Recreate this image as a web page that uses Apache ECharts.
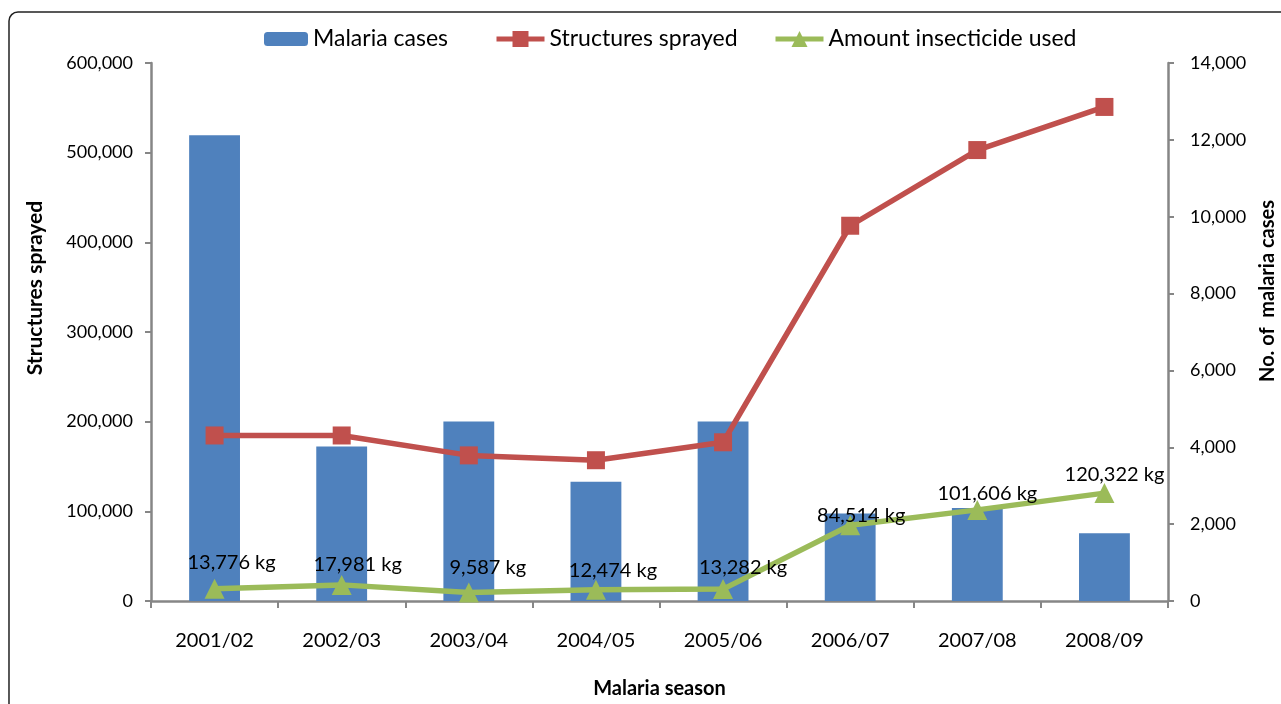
<!DOCTYPE html>
<html>
<head>
<meta charset="utf-8">
<script src="https://cdn.jsdelivr.net/npm/echarts@6/dist/echarts.min.js"></script>
<style>
html,body{margin:0;padding:0;background:#fff;overflow:hidden;}
#chart{width:1281px;height:704px;}
</style>
</head>
<body>
<div id="chart"></div>
<script>
// ---- data ----
const categories = ['2001/02', '2002/03', '2003/04', '2004/05', '2005/06', '2006/07', '2007/08', '2008/09'];
const malariaCases = [12120, 4020, 4670, 3100, 4670, 2280, 2420, 1760];
const structuresSprayed = [184600, 184600, 162400, 157000, 177000, 418500, 502900, 551000];
const insecticideKg = [13776, 17981, 9587, 12474, 13282, 84514, 101606, 120322];
const leftAxis = { min: 0, max: 600000, interval: 100000 };
const rightAxis = { min: 0, max: 14000, interval: 2000 };

// label placement offsets (style only)
const labelOffsets = [[17, -26], [16, -20], [19, -25], [17, -19], [20, -22], [11, -10], [10, -16], [10, -19]];

const FONT = 'Lato, "Open Sans", sans-serif';
const fmt = v => v.toLocaleString('en-US');

const chart = echarts.init(document.getElementById('chart'), null, { renderer: 'canvas', width: 1281, height: 704 });

const axisLineStyle = { color: '#868686', width: 2.5 };
const legendText = { fontSize: 23, color: '#000', fontFamily: FONT, lineHeight: 26 };

const option = {
  animation: false,
  backgroundColor: '#fff',
  textStyle: { fontFamily: FONT },
  graphic: [
    {
      type: 'rect',
      shape: { x: 9, y: 12, width: 1320, height: 760, r: 9 },
      style: { fill: 'none', stroke: '#222', lineWidth: 1.5 },
      silent: true,
      z: -1
    },
    {
      type: 'text',
      x: 35, y: 288, rotation: Math.PI / 2,
      style: { text: 'Structures sprayed', font: 'bold 21px ' + FONT, fill: '#000', align: 'center', verticalAlign: 'middle' }
    },
    {
      type: 'text',
      x: 1268, y: 291, rotation: Math.PI / 2,
      style: { text: 'No. of  malaria cases', font: 'bold 20px ' + FONT, fill: '#000', align: 'center', verticalAlign: 'middle' }
    }
  ],
  legend: [
    {
      data: ['Malaria cases'], left: 259, top: 21, itemWidth: 44, itemHeight: 14, itemGap: 0,
      textStyle: legendText
    },
    {
      data: ['Structures sprayed'],
      left: 489, top: 21, itemWidth: 48, itemHeight: 20, itemGap: 0,
      lineStyle: { width: 5 },
      textStyle: legendText
    },
    {
      data: ['Amount insecticide used'], left: 768, top: 21, itemWidth: 48, itemHeight: 20, itemGap: 0,
      lineStyle: { width: 5 },
      textStyle: legendText
    }
  ],
  grid: { left: 151, right: 113, top: 63, bottom: 98, containLabel: false },
  xAxis: {
    type: 'category',
    data: categories,
    boundaryGap: true,
    name: 'Malaria season',
    nameLocation: 'middle',
    nameGap: 78,
    nameTextStyle: { fontSize: 20, fontWeight: 'bold', color: '#000', fontFamily: FONT },
    axisLine: { lineStyle: axisLineStyle },
    axisTick: { show: true, length: 7, lineStyle: { color: '#868686', width: 2 } },
    axisLabel: { fontSize: 20, color: '#000', margin: 30, fontFamily: FONT },
    splitLine: { show: false }
  },
  yAxis: [
    {
      type: 'value',
      position: 'left',
      min: leftAxis.min, max: leftAxis.max, interval: leftAxis.interval,
      axisLine: { show: true, lineStyle: axisLineStyle },
      axisTick: { show: true, length: 6, lineStyle: { color: '#868686', width: 2 } },
      axisLabel: { fontSize: 18, color: '#000', margin: 18, formatter: v => fmt(v), fontFamily: FONT },
      splitLine: { show: false }
    },
    {
      type: 'value',
      position: 'right',
      min: rightAxis.min, max: rightAxis.max, interval: rightAxis.interval,
      axisLine: { show: true, lineStyle: axisLineStyle },
      axisTick: { show: true, length: 6, lineStyle: { color: '#868686', width: 2 } },
      axisLabel: { fontSize: 18, color: '#000', margin: 22, formatter: v => fmt(v), fontFamily: FONT },
      splitLine: { show: false }
    }
  ],
  series: [
    {
      name: 'Malaria cases',
      type: 'bar',
      yAxisIndex: 1,
      data: malariaCases,
      barWidth: '40%',
      itemStyle: { color: '#4F81BD' },
      z: 1
    },
    {
      name: 'Structures sprayed',
      type: 'line',
      yAxisIndex: 0,
      data: structuresSprayed,
      symbol: 'rect',
      symbolSize: 18,
      lineStyle: { color: '#C0504D', width: 5.5 },
      itemStyle: { color: '#C0504D' },
      z: 3
    },
    {
      name: 'Amount insecticide used',
      type: 'line',
      yAxisIndex: 0,
      data: insecticideKg.map((v, i) => ({
        value: v,
        label: { offset: labelOffsets[i] }
      })),
      symbol: 'triangle',
      symbolSize: 20,
      lineStyle: { color: '#9BBB59', width: 5.5 },
      itemStyle: { color: '#9BBB59' },
      label: {
        show: true,
        position: 'inside',
        fontSize: 20,
        color: '#000',
        fontFamily: FONT,
        formatter: p => fmt(p.value) + ' kg'
      },
      z: 4
    }
  ]
};

chart.setOption(option);
</script>
</body>
</html>
